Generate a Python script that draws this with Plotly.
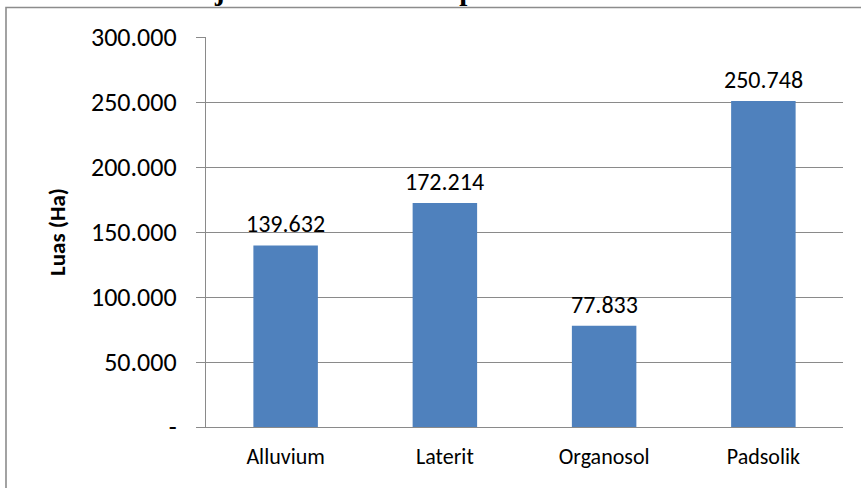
import plotly.graph_objects as go

# Soil types and their area in hectares
categories = ["Alluvium", "Laterit", "Organosol", "Padsolik"]
area_ha = [139632, 172214, 77833, 250748]
y_ticks = [0, 50000, 100000, 150000, 200000, 250000, 300000]

W, H = 861, 488
L, R, T, B = 206, 18, 37, 61
plot_w = W - L - R
plot_h = H - T - B

BAR = "#4F81BD"
GRID = "#8a8a8a"
FONT = "Calibri, Carlito, Lato, sans-serif"


def fmt(v):
    # thousands separated by dots, zero shown as a dash
    return "-" if v == 0 else f"{v:,}".replace(",", ".")


fig = go.Figure(
    go.Bar(
        x=categories,
        y=area_ha,
        marker=dict(color=BAR, line=dict(width=0)),
        hoverinfo="skip",
    )
)

# value labels above each bar
for c, v in zip(categories, area_ha):
    fig.add_annotation(
        x=c, y=v, xref="x", yref="y", text=fmt(v), showarrow=False,
        yanchor="bottom", yshift=5,
        font=dict(family=FONT, size=24, color="#000000"),
    )

# chart title (sits above the frame, mostly outside the page)
fig.add_annotation(
    x=(431 - L) / plot_w, xref="paper", xanchor="center",
    y=(H - B - 8) / plot_h, yref="paper", yanchor="bottom",
    text="<b>jenis tanah di Kabupaten Merauke</b>", showarrow=False,
    font=dict(family="Liberation Serif, Times New Roman, serif", size=29, color="#000000"),
)

# outer chart frame
fig.add_shape(
    type="rect", xref="paper", yref="paper",
    x0=(6 - L) / plot_w, x1=(880 - L) / plot_w,
    y0=(H - B - 520) / plot_h, y1=(H - B - 7.5) / plot_h,
    line=dict(color="#8c8c8c", width=1.6), fillcolor="rgba(0,0,0,0)", layer="below",
)

fig.update_layout(
    width=W, height=H,
    margin=dict(l=L, r=R, t=T, b=B, pad=0),
    paper_bgcolor="white", plot_bgcolor="white",
    bargap=0.595,
    showlegend=False,
    font=dict(family=FONT, color="#000000"),
)

fig.update_xaxes(
    showgrid=False, showline=True, linecolor=GRID, linewidth=1.3,
    ticks="", tickfont=dict(family=FONT, size=22, color="#000000"),
    ticklabelstandoff=9, fixedrange=True,
)

fig.update_yaxes(
    range=[0, 300000], tickvals=y_ticks, ticktext=[fmt(v) for v in y_ticks],
    showgrid=True, gridcolor=GRID, gridwidth=1.3,
    showline=True, linecolor=GRID, linewidth=1.3,
    ticks="outside", ticklen=9, tickcolor=GRID, tickwidth=1.3,
    tickfont=dict(family=FONT, size=26, color="#000000"),
    ticklabelstandoff=14,
    title=dict(text="<b>Luas (Ha)</b>", font=dict(family=FONT, size=23, color="#000000"), standoff=18),
    zeroline=False, fixedrange=True,
)

fig.write_html("out.html")
